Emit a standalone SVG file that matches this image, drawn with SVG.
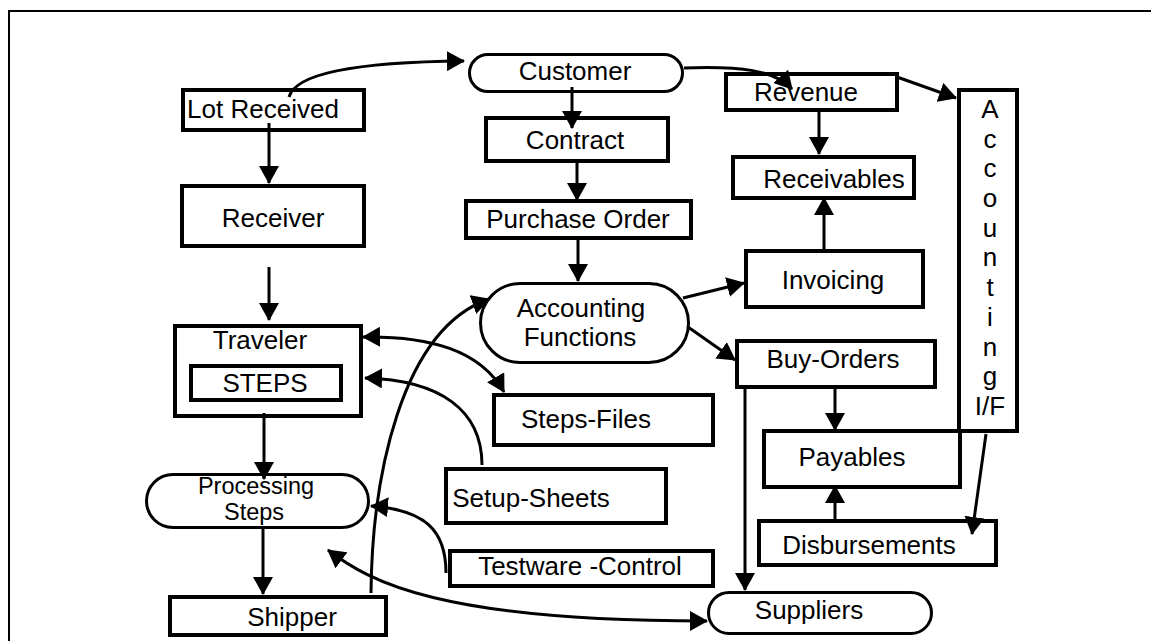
<svg xmlns="http://www.w3.org/2000/svg" width="1151" height="641" viewBox="0 0 1151 641">
<style>
.box{fill:#fff;stroke:#000;stroke-width:4}
.pill{fill:#fff;stroke:#000;stroke-width:3}
.t{font-family:"Liberation Sans",Arial,sans-serif;font-size:26px;fill:#000;text-anchor:middle}
.s{font-size:23.5px}
.c{fill:none;stroke:#000;stroke-width:3}
.a{marker-end:url(#ah)}
.b{marker-start:url(#ah);marker-end:url(#ah)}
</style>
<defs>
<marker id="ah" viewBox="0 0 18 20" refX="17" refY="10" markerWidth="18" markerHeight="20" markerUnits="userSpaceOnUse" orient="auto-start-reverse">
<path d="M0,0 L18,10 L0,20 z" fill="#000"/>
</marker>
</defs>
<rect x="0" y="0" width="1151" height="641" fill="#fff"/>
<rect x="9" y="11" width="1160" height="650" fill="none" stroke="#000" stroke-width="2"/>

<g id="lot-received"><rect class="box" x="183" y="90" width="181" height="40"/><text class="t" x="263" y="118">Lot Received</text></g>
<g id="receiver"><rect class="box" x="182" y="186" width="182" height="60"/><text class="t" x="273" y="227">Receiver</text></g>
<g id="traveler"><rect class="box" x="175" y="326" width="186" height="90"/><text class="t" x="260" y="349">Traveler</text>
<rect class="box" x="191" y="366" width="150" height="34"/><text class="t" x="265" y="392">STEPS</text></g>
<g id="processing-steps"><rect class="pill" x="146.5" y="474.5" width="222" height="53" rx="26.5"/><text class="t s" x="256" y="494">Processing</text><text class="t s" x="254" y="520">Steps</text></g>
<g id="shipper"><rect class="box" x="170" y="597" width="216" height="38"/><text class="t" x="292" y="626">Shipper</text></g>
<g id="customer"><rect class="pill" x="469.5" y="54.5" width="213" height="37" rx="18.5"/><text class="t" x="575" y="80">Customer</text></g>
<g id="contract"><rect class="box" x="486" y="118" width="182" height="43"/><text class="t" x="575" y="149">Contract</text></g>
<g id="purchase-order"><rect class="box" x="466" y="201" width="225" height="37"/><text class="t" x="578" y="228">Purchase Order</text></g>
<g id="accounting-functions"><rect class="pill" x="480.5" y="283.5" width="208" height="79" rx="39.5"/><text class="t" x="581" y="317">Accounting</text><text class="t" x="580" y="346">Functions</text></g>
<g id="revenue"><rect class="box" x="726" y="74" width="171" height="36"/><text class="t" x="806" y="101">Revenue</text></g>
<g id="receivables"><rect class="box" x="733" y="157" width="181" height="41"/><text class="t" x="834" y="188">Receivables</text></g>
<g id="invoicing"><rect class="box" x="746" y="251" width="177" height="56"/><text class="t" x="833" y="289">Invoicing</text></g>
<g id="buy-orders"><rect class="box" x="737" y="341" width="198" height="46"/><text class="t" x="833" y="368">Buy-Orders</text></g>
<g id="payables"><rect class="box" x="764" y="431" width="196" height="56"/><text class="t" x="852" y="466">Payables</text></g>
<g id="disbursements"><rect class="box" x="759" y="521" width="237" height="44"/><text class="t" x="869" y="554">Disbursements</text></g>
<g id="suppliers"><rect class="pill" x="708.5" y="592.5" width="223" height="41" rx="20.5"/><text class="t" x="809" y="619">Suppliers</text></g>
<g id="steps-files"><rect class="box" x="494" y="395" width="219" height="50"/><text class="t" x="586" y="428">Steps-Files</text></g>
<g id="setup-sheets"><rect class="box" x="446" y="469" width="220" height="54"/><text class="t" x="531" y="507">Setup-Sheets</text></g>
<g id="testware-control"><rect class="box" x="450" y="551" width="263" height="35"/><text class="t" x="580" y="575">Testware -Control</text></g>
<g id="accounting-if"><rect class="box" x="959" y="90" width="58" height="341"/>
<text class="t" x="990" y="118">A</text><text class="t" x="990" y="148">c</text><text class="t" x="990" y="177">c</text><text class="t" x="990" y="207">o</text><text class="t" x="990" y="237">u</text><text class="t" x="990" y="266">n</text><text class="t" x="990" y="296">t</text><text class="t" x="990" y="326">i</text><text class="t" x="990" y="356">n</text><text class="t" x="990" y="385">g</text><text class="t" x="990" y="415">I/F</text></g>

<g id="connectors">
<path class="c a" d="M289 97 C295 75 350 62 464 61"/>
<path class="c a" d="M684 68 C740 66 775 70 792 89"/>
<path class="c a" d="M572 87 L572 128"/>
<path class="c a" d="M577 163 L577 200"/>
<path class="c a" d="M578 240 L578 281"/>
<path class="c a" d="M683 298 L744 283"/>
<path class="c a" d="M688 327 L735 360"/>
<path class="c a" d="M824 249 L824 198"/>
<path class="c a" d="M819 112 L819 154"/>
<path class="c a" d="M897 77 L956 98"/>
<path class="c a" d="M835 389 L835 430"/>
<path class="c a" d="M835 522 L835 486"/>
<path class="c a" d="M986 434 L972 534"/>
<path class="c a" d="M745 387 L745 590"/>
<path class="c a" d="M269 123 L269 183"/>
<path class="c a" d="M269 267 L269 320"/>
<path class="c a" d="M264 413 L264 479"/>
<path class="c a" d="M263 529 L263 594"/>
<path class="c b" d="M363 337 C430 336 480 350 504 392"/>
<path class="c a" d="M482 465 C482 410 440 380 365 378"/>
<path class="c a" d="M371 593 C372 480 400 330 489 299"/>
<path class="c a" d="M446 573 C446 530 425 510 371 506"/>
<path class="c b" d="M328 550 C370 582 440 621 707 621"/>
</g>
</svg>
